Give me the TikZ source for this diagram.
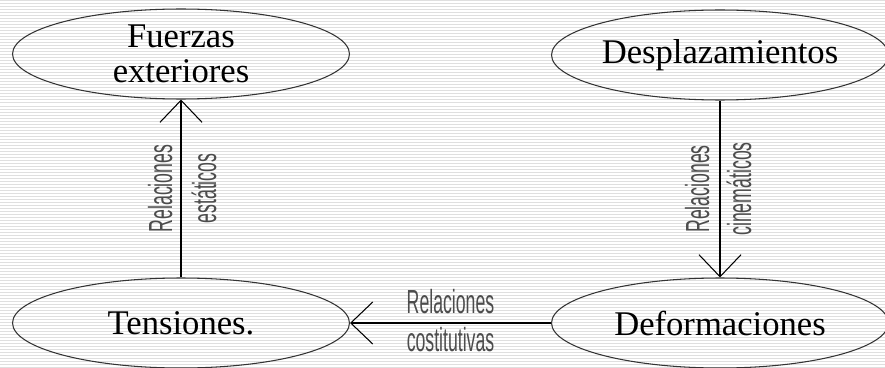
\documentclass[tikz,border=0pt]{standalone}
\usepackage{fontspec}
\setmainfont{Liberation Serif}
\newfontfamily\rotulo[FakeStretch=0.53]{Liberation Sans}
\usetikzlibrary{arrows.meta, shapes.geometric}

\begin{document}
\begin{tikzpicture}[
            x = 0.02cm, y = -0.02cm, % one unit per pixel, y downwards
            line width = 0.6pt,
            > = {Straight Barb[length=0.44cm, width=0.84cm]},
            magnitud/.style = {ellipse, draw=black!80, inner sep=0pt,
                minimum width=6.74cm, minimum height=1.8cm, align=center,
                font=\fontsize{19.7}{19.9}\selectfont},
            relacion/.style = {inner sep=0pt, text=black!70,
                font=\rotulo\fontsize{19}{20}\selectfont},
            raya/.style = {gray!25, line width=0.02cm} % background stripes
        ]

        \useasboundingbox (0,0) rectangle (885,368);
        \foreach \y in {1,4,...,367}
            \draw[raya] (0,\y) -- (885,\y);

        \node[magnitud] (fuer) at (181,54) {Fuerzas\\exteriores};
        \node[magnitud] (desp) at (720,55) {Desplazamientos};
        \node[magnitud] (tens) at (181,323) {Tensiones.};
        \node[magnitud] (defo) at (720,323) {Deformaciones};

        \path[->] (tens) edge node[relacion, sloped, above=0.16cm] {Relaciones}
            node[relacion, sloped, below=0.2cm] {estáticos} (fuer);
        \path[<-] (defo) edge node[relacion, sloped, above=0.2cm] {Relaciones}
            node[relacion, sloped, below=0.12cm] {cinemáticos} (desp);
        \path[->] (defo) edge node[relacion, above=0.18cm] {Relaciones}
            node[relacion, below=0.08cm] {costitutivas} (tens);
\end{tikzpicture}
\end{document}
